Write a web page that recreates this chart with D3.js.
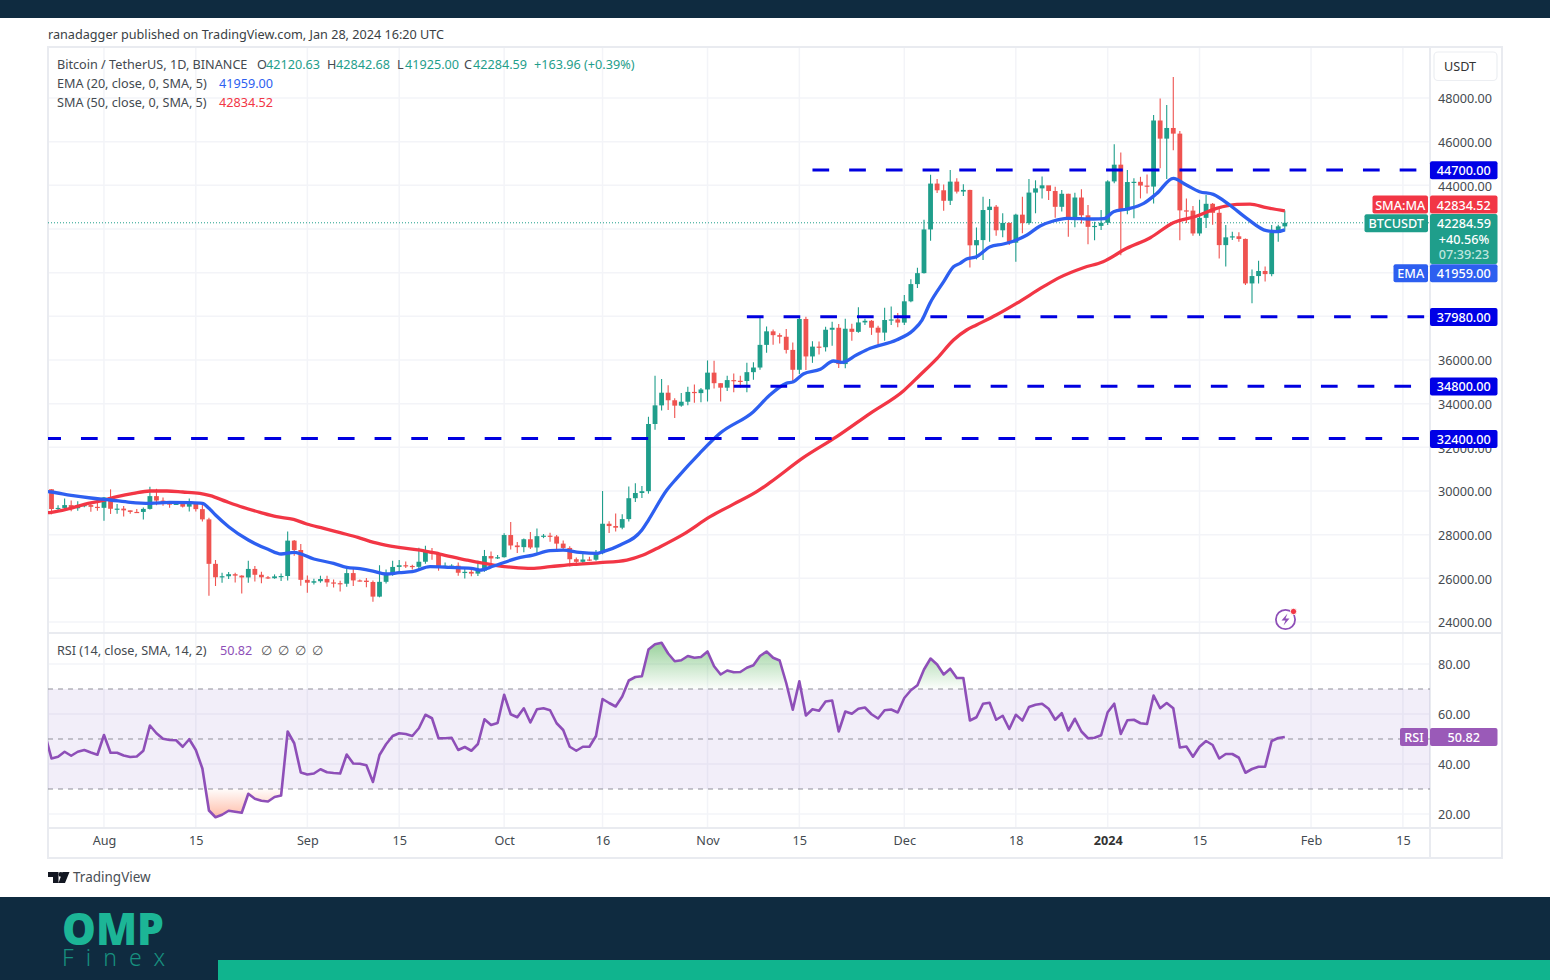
<!DOCTYPE html>
<html><head><meta charset="utf-8">
<script src="https://cdn.jsdelivr.net/npm/d3@7"></script>
<style>html,body{margin:0;background:#fff}svg{display:block}text{font-family:"Noto Sans",sans-serif}</style>
</head><body><div id="c"></div>
<script>
// ---------- data ----------
const firstDay = "2023-07-24";
const opens = [30080,29176,29225,29354,29210,29317,29355,29275,
29230,29705,29186,29193,29113,29042,29041,29180,29765,29561,29429,29397,29415,29283,29408,29170,28701,26664,26049,26096,26189,26124,26040,26431,26163,26047,26005,26089,26106,27727,27297,
25931,25800,25868,25969,25812,25779,25753,26240,25905,25895,25832,25162,25840,26222,26522,26600,26568,26527,26760,27211,27132,26567,26579,26579,26256,26298,26217,26352,27021,26911,
26967,27983,27505,27429,27790,27412,27931,27954,27917,27590,27392,26875,26756,26862,26852,27154,28500,28395,28320,28713,29670,29909,29992,33069,33922,34502,34156,33910,34089,34538,34484,
34650,35421,34938,34732,35080,35049,35037,35443,35655,36693,37313,37138,37065,36462,35552,37880,36163,36613,36585,37386,37476,35813,37432,37289,37720,37796,37479,37254,37832,37858,
37712,38688,39476,39978,41980,44080,43773,43293,44170,43713,43789,41253,41492,42869,43022,41941,42278,41374,42657,42271,43668,43861,44000,43739,43016,43613,42520,43442,42627,42099,42142,
42283,44179,44946,42845,44151,44162,43989,43943,46970,46139,46627,46368,42853,42842,41796,42511,43154,42742,41262,41618,41665,41545,39507,39845,40077,39934,41816,42120];
const closes = [29176,29225,29354,29210,29317,29355,29275,29230,
29705,29186,29193,29113,29042,29041,29180,29765,29561,29429,29397,29415,29283,29408,29170,28701,26664,26049,26096,26189,26124,26040,26431,26163,26047,26005,26089,26106,27727,27297,25931,
25800,25868,25969,25812,25779,25753,26240,25905,25895,25832,25162,25840,26222,26522,26600,26568,26527,26760,27211,27132,26567,26579,26579,26256,26298,26217,26352,27021,26911,26967,
27983,27505,27429,27790,27412,27931,27954,27917,27590,27392,26875,26756,26862,26852,27154,28500,28395,28320,28713,29670,29909,29992,33069,33922,34502,34156,33910,34089,34538,34484,34650,
35421,34938,34732,35080,35049,35037,35443,35655,36693,37313,37138,37065,36462,35552,37880,36163,36613,36585,37386,37476,35813,37432,37289,37720,37796,37479,37254,37832,37858,37712,
38688,39476,39978,41980,44080,43773,43293,44170,43713,43789,41253,41492,42869,43022,41941,42278,41374,42657,42271,43668,43861,44000,43739,43016,43613,42520,43442,42627,42099,42142,42283,
44179,44946,42845,44151,44162,43989,43943,46970,46139,46627,46368,42853,42842,41796,42511,43154,42742,41262,41618,41665,41545,39507,39845,40077,39934,41816,42120,42284];
const highs = [30090,29350,29660,29560,29530,29450,29450,29530,
29730,30075,29400,29310,29110,29170,29240,30200,30100,29700,29540,29460,29470,29660,29490,29400,28780,26840,26260,26290,26260,26140,26800,26560,26300,26110,26180,26220,28140,27760,27570,
26130,25980,26120,26120,25950,25890,26440,26440,25950,26020,25900,26600,26400,26800,26840,26770,26620,27400,27490,27390,27150,26730,26640,26730,26430,26390,26810,27300,27230,27070,
28060,28580,27660,27830,28120,28280,28030,28090,27990,27730,27470,26950,27130,26990,27300,30000,28620,28970,28930,30210,30350,30230,33400,35280,35130,34840,34250,34490,34770,34880,34720,
35980,35970,34940,35280,35380,35280,35870,35900,37970,37530,37400,37230,37420,36800,37980,37980,36860,36850,37520,37750,37650,37890,37660,38420,37890,37830,37570,38390,38450,38150,
38980,39700,40220,42420,44490,44290,44040,44700,44320,44050,43800,42070,43480,43370,43100,42720,42300,42700,43480,44290,44230,44400,43940,43940,43790,43613,43660,43815,43100,42335,42870,
44230,45880,45500,44700,44320,44390,44500,47220,47980,47680,48960,46490,43400,43050,43340,43560,43190,42930,42180,41870,41850,41570,40150,40550,40280,42180,42190,42845];
const lows = [28930,29050,29080,29070,29100,29260,29050,29100,
28640,28950,28960,28830,28960,29000,28700,29150,29350,29320,29230,29360,29250,29060,29060,28600,25200,25650,25800,25970,25810,25300,25800,25860,25780,25970,25980,25880,25900,27030,25660,
25340,25720,25800,25620,25580,25400,25620,25650,25850,25590,24930,25130,25760,26120,26230,26470,26400,26380,26670,26850,26350,26480,26500,26120,25990,26090,26110,26300,26660,26880,
26950,27320,27160,27200,27340,27170,27840,27680,27260,27300,26540,26560,26700,26790,26800,27100,28080,28150,28250,28600,29500,29680,29880,32800,33690,33710,33340,33860,33930,34040,34070,
34100,34700,34100,34580,34520,34730,34520,35100,35550,36330,36700,36760,36300,35000,35360,35540,35870,36250,36390,36650,35630,35620,36880,37250,37600,37150,36700,36880,37600,37500,
37600,38650,39300,39960,41460,43650,42840,43100,43630,43510,40240,40610,40580,41420,41690,41620,41270,40500,41800,42200,42720,43400,43330,42520,42800,41650,42075,42255,41300,41490,41950,
42180,44090,40800,42680,42490,43400,43630,43170,44780,44290,45610,41490,42270,41690,41690,42050,42200,40650,40280,41500,41420,39430,38600,39500,39590,39840,41420,41925];

// EMA / SMA: [day offset from firstDay] and value as read at those spots
const emaDays = [-1,0,3,6,9,12,15,18,21,23,24,25,27,30,33,35,37,40,43,45,47,49,51,53,55,57.7,60.7,64,65.3,67.4,70.9,73.4,76,78,80.5,83.1,84.1,86.7,90,91,93.8,95.3,98.8,101.9,107,109.5,112,113.1,114.6,117.2,119.2,120.5,122.7,124.8,128.8,131.4,132.7,133.9,136,137.5,138.5,139.5,141,143.1,145.1,147.1,148.7,150.7,152.7,154.8,158.8,160.5,161.9,164,166.5,168.5,171,173,175,177.1,179.6,182.2,185.2,186.8,188];
const emaVals = [29990,29954,29800,29680,29588,29480,29435,29480,29466,29435,29206,28900,28366,27755,27328,27114,27190,26885,26686,26503,26442,26335,26198,26259,26303,26533,26502,26456,26380,26563,26914,27067,27266,27296,27189,27143,27220,27525,28212,28670,30045,30579,31724,32641,33633,34396,34931,35007,35358,35572,35954,35893,36229,36534,36916,37374,37830,38594,39586,40273,40427,40625,40732,41190,41312,41496,41725,42137,42366,42488,42458,42480,42793,42916,43175,43632,44319,44014,43708,43586,43098,42487,41922,41876,41959];
const smaDays = [-1,0,2.5,5,7.7,10,12.5,15,17.6,20,22.6,24.2,26.7,29.2,31.8,34.3,36.9,38.9,41.5,44,46.7,49.1,51.7,53.2,56.2,59.2,63.3,67.4,70.4,73.2,76,79.6,83.6,87.7,90.2,92.8,96.3,100.4,103.9,107.5,109.5,114.6,119.7,124.8,129.9,132.4,135,137.5,139.5,141,144,147.1,151.2,153.7,157.3,160.3,163.9,167.5,171,174.6,177.6,180.7,182.7,185.2,188];
const smaVals = [29000,29023,29175,29389,29557,29740,29893,30000,30000,29954,29893,29786,29511,29252,29023,28824,28702,28488,28290,28091,27877,27648,27480,27404,27296,27113,26838,26609,26502,26456,26532,26639,26716,26838,27067,27449,28014,28823,29388,29968,30380,31526,32488,33557,34595,35313,36076,36916,37374,37602,38060,38594,39358,39785,40228,40503,41114,41601,42288,42594,42945,43128,43143,42975,42834.52];

// RSI per day, starting one day before firstDay (that point is cut by the pane edge)
const rsi = [52,42.2,42.9,44.9,43.3,44.9,45.6,44.6,43.7,51.6,44.5,44.5,43.4,42.8,43.0,45.3,55.4,52.3,50.1,49.6,49.5,46.9,49.9,45.6,38.2,21.4,18.7,19.7,21.3,20.9,20.5,28.1,26.1,25.3,25.0,26.8,27.4,53.0,48.3,36.6,35.8,36.2,37.9,36.7,36.4,36.2,43.8,40.2,40.1,39.5,32.8,43.6,47.9,51.2,52.3,52.0,51.2,54.3,59.7,58.3,50.3,
50.3,50.5,45.6,46.8,45.3,48.0,57.9,55.6,56.4,67.7,59.9,58.7,62.3,56.6,61.9,62.3,61.5,56.3,53.6,46.9,45.3,46.9,46.9,51.2,66.0,64.4,63.0,67.0,73.4,74.8,75.1,85.8,87.9,88.5,84.2,81.1,81.5,83.2,82.5,82.8,85.0,79.1,75.8,77.4,76.7,76.8,78.5,79.5,83.2,85.0,82.5,81.4,72.4,61.7,73.1,59.4,61.9,61.3,65.0,65.4,53.0,
61.0,60.1,62.1,62.6,59.9,58.2,61.5,61.8,60.6,66.4,69.5,71.5,77.8,82.2,79.8,75.8,78.1,74.4,74.4,57.4,58.7,64.1,64.5,57.7,59.3,54.0,59.7,57.4,62.8,63.7,64.1,62.1,57.7,60.3,53.4,58.1,53.0,50.3,50.5,51.5,60.7,64.1,52.0,57.5,57.7,56.3,56.0,67.4,62.3,64.4,62.3,46.6,47.0,42.9,46.9,49.2,47.6,42.2,44.0,44.0,42.5,36.5,38.0,38.9,38.9,49.2,50.4,50.82];

const gridPrices = [24000,26000,28000,30000,32000,34000,36000,38000,40000,42000,44000,46000,48000];
const priceLabels = [24000,26000,28000,30000,32000,34000,36000,44000,46000,48000];
const rsiTicks = [20,40,60,80];
const rsiBands = [70,50,30];
const timeTicks = ["2023-08-01","2023-08-15","2023-09-01","2023-09-15","2023-10-01","2023-10-16","2023-11-01","2023-11-15","2023-12-01","2023-12-18","2024-01-01","2024-01-15","2024-02-01","2024-02-15"];
const timeLabels = ["Aug","15","Sep","15","Oct","16","Nov","15","Dec","18","2024","15","Feb","15"];
const levels = [44700,37980,34800,32400];
const levelStart = [116,106,104,-1.1];
const lastPrice = 42284.59, emaLast = 41959.00, smaLast = 42834.52, rsiLast = 50.82;

// ---------- layout ----------
const W=1550,H=980;
const L=48,R=1430,T=47,PB=633,RB=828,OR=1502,OB=858;
const GREEN="#1f9e8b",RED="#ef5350",BLUE="#2d5ff0",SMAC="#f23645",LVL="#0000e0",PURP="#8e4fb8",GRID="#f3f4f8",EDGE="#e9ebf0",TXT="#444a50";
const svg=d3.select("#c").append("svg").attr("width",W).attr("height",H);
const defs=svg.append("defs");
defs.append("clipPath").attr("id","pc").append("rect").attr("x",L).attr("y",T).attr("width",R-L).attr("height",PB-T);
defs.append("clipPath").attr("id","rc").append("rect").attr("x",L).attr("y",PB).attr("width",R-L).attr("height",RB-PB);

const day=d3.utcParse("%Y-%m-%d");
const d0=day(firstDay);
const msDay=864e5;
const x=d3.scaleUtc().domain([d0,day("2024-01-28")]).range([51.5,1284.8]);
const xi=i=>x(+d0+i*msDay);
const y=d3.scaleLinear().domain([24000,48000]).range([622,98]);
const yr=d3.scaleLinear().domain([30,70]).range([789,689]);

// frame bands
svg.append("rect").attr("width",W).attr("height",18).attr("fill","#0f2b40");
svg.append("rect").attr("y",897).attr("width",W).attr("height",83).attr("fill","#0f2b40");
svg.append("rect").attr("x",218).attr("y",960).attr("width",W-218).attr("height",20).attr("fill","#10b48e");

// grid
const grid=svg.append("g").attr("stroke",GRID).attr("stroke-width",1.5);
grid.selectAll(".h").data(gridPrices).join("line").attr("x1",L).attr("x2",R).attr("y1",d=>y(d)).attr("y2",d=>y(d));
grid.selectAll(".v").data(timeTicks).join("line").attr("x1",d=>x(day(d))).attr("x2",d=>x(day(d))).attr("y1",T).attr("y2",RB);
grid.selectAll(".r").data(rsiTicks).join("line").attr("x1",L).attr("x2",R).attr("y1",d=>yr(d)).attr("y2",d=>yr(d));

// frame lines
const fr=svg.append("g").attr("stroke",EDGE).attr("stroke-width",2).attr("fill","none");
fr.append("rect").attr("x",L).attr("y",T).attr("width",OR-L).attr("height",OB-T);
fr.append("line").attr("x1",R).attr("x2",R).attr("y1",T).attr("y2",OB);
fr.append("line").attr("x1",L).attr("x2",OR).attr("y1",PB).attr("y2",PB);
fr.append("line").attr("x1",L).attr("x2",OR).attr("y1",RB).attr("y2",RB);

// main pane
const main=svg.append("g").attr("clip-path","url(#pc)");
main.append("line").attr("x1",L).attr("x2",R).attr("y1",y(lastPrice)).attr("y2",y(lastPrice))
  .attr("stroke",GREEN).attr("stroke-width",1).attr("stroke-dasharray","1 2");
const candles=closes.map((c,i)=>({i,o:opens[i],h:highs[i],l:lows[i],c}));
const cg=main.append("g");
cg.selectAll(".w").data(candles).join("line").attr("x1",d=>xi(d.i)).attr("x2",d=>xi(d.i)).attr("y1",d=>y(d.h)).attr("y2",d=>y(d.l))
  .attr("stroke",d=>d.c>=d.o?GREEN:RED).attr("stroke-width",1.1);
cg.selectAll(".b").data(candles).join("rect").attr("x",d=>xi(d.i)-2.4).attr("width",4.8)
  .attr("y",d=>y(Math.max(d.o,d.c))).attr("height",d=>Math.max(1.2,Math.abs(y(d.o)-y(d.c))))
  .attr("fill",d=>d.c>=d.o?GREEN:RED);
const ln=d3.line().x(d=>xi(d[0])).y(d=>y(d[1])).curve(d3.curveMonotoneX);
main.append("path").attr("d",ln(smaDays.map((d,i)=>[d,smaVals[i]]))).attr("fill","none").attr("stroke",SMAC).attr("stroke-width",3.3);
main.append("path").attr("d",ln(emaDays.map((d,i)=>[d,emaVals[i]]))).attr("fill","none").attr("stroke",BLUE).attr("stroke-width",3.3);
main.selectAll(".lvl").data(levels).join("line").attr("x1",(d,i)=>xi(levelStart[i])).attr("x2",R).attr("y1",d=>y(d)).attr("y2",d=>y(d))
  .attr("stroke",LVL).attr("stroke-width",3).attr("stroke-dasharray","16.7 20");

// RSI pane
const rp=svg.append("g").attr("clip-path","url(#rc)");
rp.append("rect").attr("x",L).attr("width",R-L).attr("y",yr(70)).attr("height",yr(30)-yr(70)).attr("fill","#7e57c2").attr("opacity",.1);
rp.selectAll(".b").data(rsiBands).join("line").attr("x1",L).attr("x2",R).attr("y1",d=>yr(d)).attr("y2",d=>yr(d))
  .attr("stroke","#8f8f98").attr("stroke-width",1).attr("stroke-dasharray","5 5");
const gu=defs.append("linearGradient").attr("id","gu").attr("gradientUnits","userSpaceOnUse").attr("x1",0).attr("x2",0).attr("y1",yr(88)).attr("y2",yr(70));
gu.append("stop").attr("offset",0).attr("stop-color","#4caf50").attr("stop-opacity",.55);
gu.append("stop").attr("offset",1).attr("stop-color","#4caf50").attr("stop-opacity",.02);
const gd=defs.append("linearGradient").attr("id","gd").attr("gradientUnits","userSpaceOnUse").attr("x1",0).attr("x2",0).attr("y1",yr(30)).attr("y2",yr(19));
gd.append("stop").attr("offset",0).attr("stop-color","#ff7043").attr("stop-opacity",.02);
gd.append("stop").attr("offset",1).attr("stop-color","#ff7043").attr("stop-opacity",.45);
const rsiPts=rsi.map((v,k)=>[k-1,v]);
defs.append("clipPath").attr("id","ca").append("rect").attr("x",L).attr("y",PB).attr("width",R-L).attr("height",yr(70)-PB);
defs.append("clipPath").attr("id","cb").append("rect").attr("x",L).attr("y",yr(30)).attr("width",R-L).attr("height",RB-yr(30));
const ar=d3.area().x(d=>xi(d[0])).y1(d=>yr(d[1]));
rp.append("g").attr("clip-path","url(#ca)").append("path").attr("d",ar.y0(yr(70))(rsiPts)).attr("fill","url(#gu)");
rp.append("g").attr("clip-path","url(#cb)").append("path").attr("d",ar.y0(yr(30))(rsiPts)).attr("fill","url(#gd)");
rp.append("path").attr("d",d3.line().x(d=>xi(d[0])).y(d=>yr(d[1]))(rsiPts)).attr("fill","none").attr("stroke",PURP).attr("stroke-width",2.6).attr("stroke-linejoin","round");

// axes
const FS=12.65;
function styleAxis(g){g.select(".domain").remove();g.selectAll("text").attr("fill",TXT).attr("font-size",FS).attr("font-family",'"Noto Sans",sans-serif');}
svg.append("g").attr("transform",`translate(1438,0.7)`).call(d3.axisRight(y).tickValues(priceLabels).tickSize(0).tickPadding(0).tickFormat(d3.format(".2f"))).call(styleAxis);
svg.append("g").attr("transform",`translate(1438,0.4)`).call(d3.axisRight(yr).tickValues(rsiTicks).tickSize(0).tickPadding(0).tickFormat(d3.format(".2f"))).call(styleAxis);
const tAxis=svg.append("g").attr("transform",`translate(0,836)`).call(d3.axisBottom(x).tickValues(timeTicks.map(day)).tickSize(0).tickPadding(0).tickFormat((d,i)=>timeLabels[i])).call(styleAxis);
tAxis.selectAll("text").filter(t=>t.getUTCFullYear()===2024&&t.getUTCMonth()===0&&t.getUTCDate()===1).attr("font-weight",700).attr("fill","#333");

// price / level tags
function tag(x0,x1,cy,h,fill,txt,tc,r){
  svg.append("rect").attr("x",x0).attr("y",cy-h/2).attr("width",x1-x0).attr("height",h).attr("rx",r==null?2:r).attr("fill",fill);
  if(txt)svg.append("text").attr("x",(x0+x1)/2).attr("y",cy+.5).attr("dy",".35em").attr("text-anchor","middle").attr("fill",tc||"#fff").attr("font-size",FS).attr("font-weight",500).text(txt);
}
const fmt=d3.format(".2f");
levels.forEach(v=>tag(1430,1497.5,y(v)+.3,18,"#0000e6",fmt(v)));
tag(1372.5,1428,204.6,18,SMAC,"SMA:MA");
tag(1430,1497.5,204.6,18,SMAC,fmt(smaLast));
tag(1364.5,1428,223.2,18,GREEN,"BTCUSDT");
svg.append("rect").attr("x",1430).attr("y",214).attr("width",67.5).attr("height",50).attr("rx",2).attr("fill",GREEN);
[[224,fmt(lastPrice),"#fff"],[239.5,"+40.56%","#fff"],[254.5,"07:39:23","#bfe6df"]].forEach(t=>{
  svg.append("text").attr("x",1464).attr("y",t[0]).attr("dy",".35em").attr("text-anchor","middle").attr("fill",t[2]).attr("font-size",FS).attr("font-weight",500).text(t[1]);});
tag(1393.5,1428,273.2,18,BLUE,"EMA");
tag(1430,1497.5,273.2,18,BLUE,fmt(emaLast));
tag(1400,1428,737,18,"#9a5ab8","RSI");
tag(1430,1497.5,737,18,"#9a5ab8",fmt(rsiLast));
svg.append("rect").attr("x",1434).attr("y",52).attr("width",63).attr("height",28.5).attr("rx",4).attr("fill","#fff").attr("stroke","#eceef2").attr("stroke-width",1.2);
svg.append("text").attr("x",1444).attr("y",67).attr("dy",".35em").attr("fill","#333").attr("font-size",FS).text("USDT");

// header + legends
function label(xp,yp,t,c,a){svg.append("text").attr("x",xp).attr("y",yp+.7).attr("dy",".35em").attr("fill",c||TXT).attr("font-size",FS).attr("text-anchor",a||"start").text(t);}
label(48,34,"ranadagger published on TradingView.com, Jan 28, 2024 16:20 UTC","#3a3f45");
label(57,64,"Bitcoin / TetherUS, 1D, BINANCE");
[["O",257,"42120.63",266],["H",327,"42842.68",336],["L",397,"41925.00",405],["C",464,"42284.59",473]].forEach(a=>{label(a[1],64,a[0]);label(a[3],64,a[2],GREEN);});
label(534,64,"+163.96 (+0.39%)",GREEN);
label(57,83,"EMA (20, close, 0, SMA, 5)");label(219,83,"41959.00",BLUE);
label(57,102,"SMA (50, close, 0, SMA, 5)");label(219,102,"42834.52",SMAC);
label(57,650,"RSI (14, close, SMA, 14, 2)");label(220,650,"50.82",PURP);
[261,278,295,312].forEach(px=>label(px,650,"∅","#555"));

// pane icon
const ic=svg.append("g").attr("transform","translate(1285.5,619.5)");
ic.append("circle").attr("r",9.6).attr("fill","#fff").attr("stroke",PURP).attr("stroke-width",1.8);
ic.append("path").attr("d","M2-6L-4 1H0L-2 6L4-1H0Z").attr("fill",PURP);
ic.append("circle").attr("cx",8).attr("cy",-8).attr("r",3.2).attr("fill",SMAC).attr("stroke","#fff").attr("stroke-width",1);

// TradingView mark
svg.append("path").attr("d","M48 872H58.5V883H53V877H48ZM62.5 872H69.5L65 883H58.5Z").attr("fill","#131722");
svg.append("circle").attr("cx",60.8).attr("cy",874.4).attr("r",2.3).attr("fill","#131722");
svg.append("text").attr("x",73).attr("y",877.5).attr("dy",".35em").attr("fill","#4a4f55").attr("font-size",13.5).text("TradingView");

// footer logo
svg.append("text").attr("x",62).attr("y",945).attr("fill","#1cb596").attr("font-size",44).attr("font-weight",900).attr("font-family","Lato,sans-serif").attr("textLength",102).attr("lengthAdjust","spacingAndGlyphs").text("OMP");
svg.append("text").attr("x",62).attr("y",966).attr("fill","#17907f").attr("font-size",23).attr("font-weight",300).attr("font-family","Lato,sans-serif").attr("textLength",103).attr("lengthAdjust","spacing").text("Finex");
</script></body></html>
